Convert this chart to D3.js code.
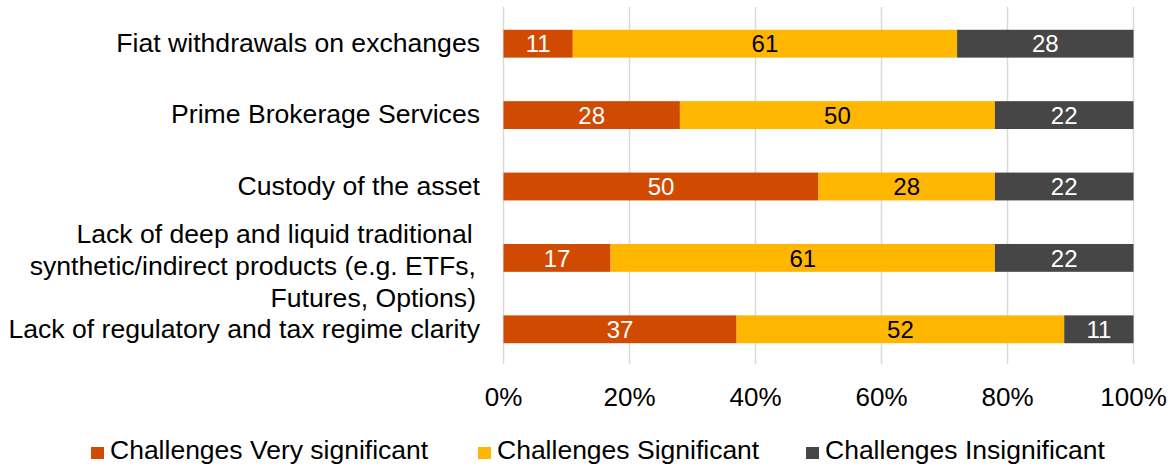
<!DOCTYPE html>
<html>
<head>
<meta charset="utf-8">
<script src="https://cdn.jsdelivr.net/npm/d3@7"></script>
<style>
  html, body { margin: 0; padding: 0; background: #fff; }
  svg { display: block; font-family: "Liberation Sans", Arial, sans-serif; }
  .pre { white-space: pre; }
</style>
</head>
<body>
<svg id="chart" width="1173" height="468"></svg>
<script>
// Survey challenges, share of respondents (%)
const categories = [
  "Fiat withdrawals on exchanges",
  "Prime Brokerage Services",
  "Custody of the asset",
  "Lack of deep and liquid traditional synthetic/indirect products (e.g. ETFs, Futures, Options)",
  "Lack of regulatory and tax regime clarity"
];
// Wrapped lines for the category labels
const categoryLines = [
  ["Fiat withdrawals on exchanges"],
  ["Prime Brokerage Services"],
  ["Custody of the asset"],
  ["Lack of deep and liquid traditional ", "synthetic/indirect products (e.g. ETFs,", "Futures, Options)"],
  ["Lack of regulatory and tax regime clarity"]
];
const seriesNames = ["Challenges Very significant", "Challenges Significant", "Challenges Insignificant"];
const verySignificant = [11, 28, 50, 17, 37];
const significant     = [61, 50, 28, 61, 52];
const insignificant   = [28, 22, 22, 22, 11];
const tickValues = [0, 0.2, 0.4, 0.6, 0.8, 1.0];
const tickLabels = ["0%", "20%", "40%", "60%", "80%", "100%"];

const colors = ["#D04A02", "#FFB600", "#464646"];
const labelColors = ["#fff", "#000", "#fff"];

const svg = d3.select("#chart");

const x = d3.scaleLinear().domain([0, 1]).range([503.5, 1133.5]);
const y = d3.scaleBand().domain(categories).range([8, 365]).paddingInner(0.61).paddingOuter(0.305);

// Gridlines
svg.append("g").selectAll("line")
  .data(tickValues)
  .join("line")
  .attr("x1", d => x(d)).attr("x2", d => x(d))
  .attr("y1", 7).attr("y2", 364)
  .attr("stroke", "#D9D9D9")
  .attr("stroke-width", 1.5);

// Stack data
const rows = categories.map((c, i) => ({
  cat: c,
  s0: verySignificant[i],
  s1: significant[i],
  s2: insignificant[i]
}));
const stack = d3.stack().keys(["s0", "s1", "s2"]).offset(d3.stackOffsetExpand);
const stacked = stack(rows);

const layers = svg.append("g").selectAll("g")
  .data(stacked)
  .join("g")
  .attr("fill", (d, i) => colors[i]);

layers.selectAll("rect")
  .data(d => d)
  .join("rect")
  .attr("x", d => x(d[0]))
  .attr("width", d => x(d[1]) - x(d[0]))
  .attr("y", d => y(d.data.cat))
  .attr("height", y.bandwidth());

// Value labels
svg.append("g").selectAll("g")
  .data(stacked)
  .join("g")
  .each(function(layer, li) {
    d3.select(this).selectAll("text")
      .data(layer)
      .join("text")
      .attr("x", d => (x(d[0]) + x(d[1])) / 2)
      .attr("y", d => y(d.data.cat) + y.bandwidth() / 2)
      .attr("dy", "0.36em")
      .attr("text-anchor", "middle")
      .attr("font-size", 24)
      .attr("fill", labelColors[li])
      .text(d => d.data[layer.key]);
  });

// Category labels
const catG = svg.append("g");
categories.forEach((c, i) => {
  const lines = categoryLines[i];
  const multi = lines.length > 1;
  const cy = y(c) + y.bandwidth() / 2 + (multi ? 8 : -1);
  const lh = 32;
  const t = catG.append("text")
    .attr("class", "pre")
    .attr("text-anchor", "end")
    .attr("font-size", 26.6)
    .attr("fill", "#000");
  lines.forEach((ln, k) => {
    t.append("tspan")
      .attr("x", multi && k > 0 ? 476 : 480)
      .attr("y", cy + (k - (lines.length - 1) / 2) * lh)
      .attr("dy", "0.35em")
      .text(ln);
  });
});

// X axis tick labels
svg.append("g").selectAll("text")
  .data(tickValues)
  .join("text")
  .attr("x", d => x(d))
  .attr("y", 406)
  .attr("text-anchor", "middle")
  .attr("font-size", 26)
  .attr("fill", "#000")
  .text((d, i) => tickLabels[i]);

// Legend
const legend = svg.append("g");
const legendItemsX = [91, 478, 806];
seriesNames.forEach((name, i) => {
  const g = legend.append("g").attr("transform", `translate(${legendItemsX[i]},0)`);
  g.append("rect").attr("x", 0).attr("y", 447).attr("width", 13).attr("height", 12).attr("fill", colors[i]);
  g.append("text").attr("x", 19).attr("y", 459).attr("font-size", 26.5).attr("fill", "#000").text(name);
});
</script>
</body>
</html>
